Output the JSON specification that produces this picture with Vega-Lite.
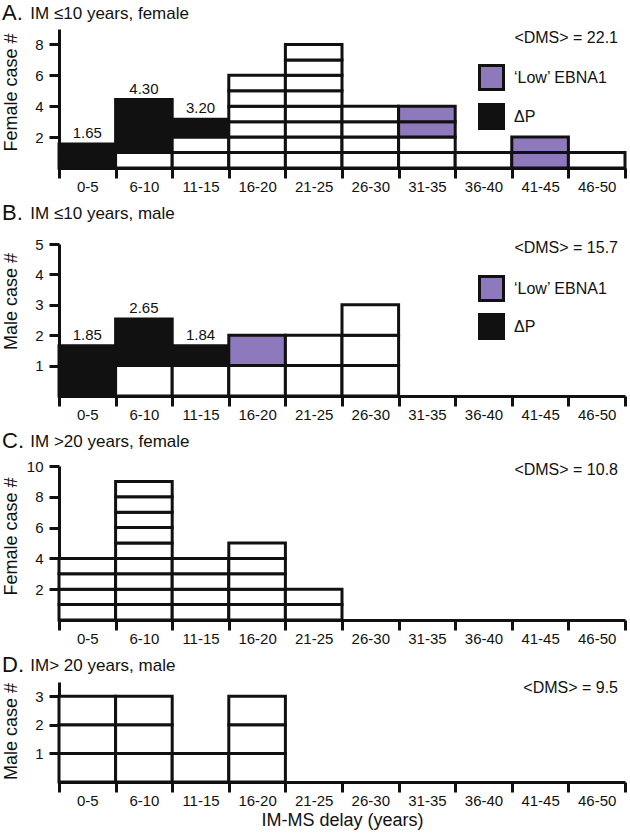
{
  "$schema": "https://vega.github.io/schema/vega-lite/v6.json",
  "background": "white",
  "padding": {"left": 1, "right": 2, "top": 2, "bottom": 2},
  "spacing": 8,
  "config": {
    "view": {"stroke": null},
    "font": "Liberation Sans",
    "axis": {
      "domainColor": "#111", "domainWidth": 3, "tickColor": "#111", "tickWidth": 3, "tickSize": 10,
      "labelFont": "Liberation Sans", "labelFontSize": 15, "labelColor": "#111",
      "titleFont": "Liberation Sans", "titleFontSize": 18, "titleFontWeight": "normal", "titleColor": "#111",
      "grid": false, "labelOverlap": false, "tickCount": 12
    },
    "title": {
      "font": "Liberation Sans", "subtitleFont": "Liberation Sans", "fontSize": 22, "subtitleFontSize": 17,
      "fontWeight": "normal", "color": "#111", "subtitleColor": "#111", "anchor": "start", "frame": "bounds",
      "subtitlePadding": -19
    }
  },
  "datasets": {
    "cells": [
      {"panel": "A", "delay_from": 0, "delay_to": 5, "case_from": 0, "case_to": 1.55, "group": "ΔP"},
      {"panel": "A", "delay_from": 5, "delay_to": 10, "case_from": 0, "case_to": 1, "group": "Case"},
      {"panel": "A", "delay_from": 5, "delay_to": 10, "case_from": 1, "case_to": 4.43, "group": "ΔP"},
      {"panel": "A", "delay_from": 10, "delay_to": 15, "case_from": 0, "case_to": 1, "group": "Case"},
      {"panel": "A", "delay_from": 10, "delay_to": 15, "case_from": 1, "case_to": 2, "group": "Case"},
      {"panel": "A", "delay_from": 10, "delay_to": 15, "case_from": 2, "case_to": 3.15, "group": "ΔP"},
      {"panel": "A", "delay_from": 15, "delay_to": 20, "case_from": 0, "case_to": 1, "group": "Case"},
      {"panel": "A", "delay_from": 15, "delay_to": 20, "case_from": 1, "case_to": 2, "group": "Case"},
      {"panel": "A", "delay_from": 15, "delay_to": 20, "case_from": 2, "case_to": 3, "group": "Case"},
      {"panel": "A", "delay_from": 15, "delay_to": 20, "case_from": 3, "case_to": 4, "group": "Case"},
      {"panel": "A", "delay_from": 15, "delay_to": 20, "case_from": 4, "case_to": 5, "group": "Case"},
      {"panel": "A", "delay_from": 15, "delay_to": 20, "case_from": 5, "case_to": 6, "group": "Case"},
      {"panel": "A", "delay_from": 20, "delay_to": 25, "case_from": 0, "case_to": 1, "group": "Case"},
      {"panel": "A", "delay_from": 20, "delay_to": 25, "case_from": 1, "case_to": 2, "group": "Case"},
      {"panel": "A", "delay_from": 20, "delay_to": 25, "case_from": 2, "case_to": 3, "group": "Case"},
      {"panel": "A", "delay_from": 20, "delay_to": 25, "case_from": 3, "case_to": 4, "group": "Case"},
      {"panel": "A", "delay_from": 20, "delay_to": 25, "case_from": 4, "case_to": 5, "group": "Case"},
      {"panel": "A", "delay_from": 20, "delay_to": 25, "case_from": 5, "case_to": 6, "group": "Case"},
      {"panel": "A", "delay_from": 20, "delay_to": 25, "case_from": 6, "case_to": 7, "group": "Case"},
      {"panel": "A", "delay_from": 20, "delay_to": 25, "case_from": 7, "case_to": 8, "group": "Case"},
      {"panel": "A", "delay_from": 25, "delay_to": 30, "case_from": 0, "case_to": 1, "group": "Case"},
      {"panel": "A", "delay_from": 25, "delay_to": 30, "case_from": 1, "case_to": 2, "group": "Case"},
      {"panel": "A", "delay_from": 25, "delay_to": 30, "case_from": 2, "case_to": 3, "group": "Case"},
      {"panel": "A", "delay_from": 25, "delay_to": 30, "case_from": 3, "case_to": 4, "group": "Case"},
      {"panel": "A", "delay_from": 30, "delay_to": 35, "case_from": 0, "case_to": 1, "group": "Case"},
      {"panel": "A", "delay_from": 30, "delay_to": 35, "case_from": 1, "case_to": 2, "group": "Case"},
      {"panel": "A", "delay_from": 30, "delay_to": 35, "case_from": 2, "case_to": 3, "group": "‘Low’ EBNA1"},
      {"panel": "A", "delay_from": 30, "delay_to": 35, "case_from": 3, "case_to": 4, "group": "‘Low’ EBNA1"},
      {"panel": "A", "delay_from": 35, "delay_to": 40, "case_from": 0, "case_to": 1, "group": "Case"},
      {"panel": "A", "delay_from": 40, "delay_to": 45, "case_from": 0, "case_to": 1, "group": "‘Low’ EBNA1"},
      {"panel": "A", "delay_from": 40, "delay_to": 45, "case_from": 1, "case_to": 2, "group": "‘Low’ EBNA1"},
      {"panel": "A", "delay_from": 45, "delay_to": 50, "case_from": 0, "case_to": 1, "group": "Case"},

      {"panel": "B", "delay_from": 0, "delay_to": 5, "case_from": 0, "case_to": 1.65, "group": "ΔP"},
      {"panel": "B", "delay_from": 5, "delay_to": 10, "case_from": 0, "case_to": 1, "group": "Case"},
      {"panel": "B", "delay_from": 5, "delay_to": 10, "case_from": 1, "case_to": 2.53, "group": "ΔP"},
      {"panel": "B", "delay_from": 10, "delay_to": 15, "case_from": 0, "case_to": 1, "group": "Case"},
      {"panel": "B", "delay_from": 10, "delay_to": 15, "case_from": 1, "case_to": 1.65, "group": "ΔP"},
      {"panel": "B", "delay_from": 15, "delay_to": 20, "case_from": 0, "case_to": 1, "group": "Case"},
      {"panel": "B", "delay_from": 15, "delay_to": 20, "case_from": 1, "case_to": 2, "group": "‘Low’ EBNA1"},
      {"panel": "B", "delay_from": 20, "delay_to": 25, "case_from": 0, "case_to": 1, "group": "Case"},
      {"panel": "B", "delay_from": 20, "delay_to": 25, "case_from": 1, "case_to": 2, "group": "Case"},
      {"panel": "B", "delay_from": 25, "delay_to": 30, "case_from": 0, "case_to": 1, "group": "Case"},
      {"panel": "B", "delay_from": 25, "delay_to": 30, "case_from": 1, "case_to": 2, "group": "Case"},
      {"panel": "B", "delay_from": 25, "delay_to": 30, "case_from": 2, "case_to": 3, "group": "Case"},

      {"panel": "C", "delay_from": 0, "delay_to": 5, "case_from": 0, "case_to": 1, "group": "Case"},
      {"panel": "C", "delay_from": 0, "delay_to": 5, "case_from": 1, "case_to": 2, "group": "Case"},
      {"panel": "C", "delay_from": 0, "delay_to": 5, "case_from": 2, "case_to": 3, "group": "Case"},
      {"panel": "C", "delay_from": 0, "delay_to": 5, "case_from": 3, "case_to": 4, "group": "Case"},
      {"panel": "C", "delay_from": 5, "delay_to": 10, "case_from": 0, "case_to": 1, "group": "Case"},
      {"panel": "C", "delay_from": 5, "delay_to": 10, "case_from": 1, "case_to": 2, "group": "Case"},
      {"panel": "C", "delay_from": 5, "delay_to": 10, "case_from": 2, "case_to": 3, "group": "Case"},
      {"panel": "C", "delay_from": 5, "delay_to": 10, "case_from": 3, "case_to": 4, "group": "Case"},
      {"panel": "C", "delay_from": 5, "delay_to": 10, "case_from": 4, "case_to": 5, "group": "Case"},
      {"panel": "C", "delay_from": 5, "delay_to": 10, "case_from": 5, "case_to": 6, "group": "Case"},
      {"panel": "C", "delay_from": 5, "delay_to": 10, "case_from": 6, "case_to": 7, "group": "Case"},
      {"panel": "C", "delay_from": 5, "delay_to": 10, "case_from": 7, "case_to": 8, "group": "Case"},
      {"panel": "C", "delay_from": 5, "delay_to": 10, "case_from": 8, "case_to": 9, "group": "Case"},
      {"panel": "C", "delay_from": 10, "delay_to": 15, "case_from": 0, "case_to": 1, "group": "Case"},
      {"panel": "C", "delay_from": 10, "delay_to": 15, "case_from": 1, "case_to": 2, "group": "Case"},
      {"panel": "C", "delay_from": 10, "delay_to": 15, "case_from": 2, "case_to": 3, "group": "Case"},
      {"panel": "C", "delay_from": 10, "delay_to": 15, "case_from": 3, "case_to": 4, "group": "Case"},
      {"panel": "C", "delay_from": 15, "delay_to": 20, "case_from": 0, "case_to": 1, "group": "Case"},
      {"panel": "C", "delay_from": 15, "delay_to": 20, "case_from": 1, "case_to": 2, "group": "Case"},
      {"panel": "C", "delay_from": 15, "delay_to": 20, "case_from": 2, "case_to": 3, "group": "Case"},
      {"panel": "C", "delay_from": 15, "delay_to": 20, "case_from": 3, "case_to": 4, "group": "Case"},
      {"panel": "C", "delay_from": 15, "delay_to": 20, "case_from": 4, "case_to": 5, "group": "Case"},
      {"panel": "C", "delay_from": 20, "delay_to": 25, "case_from": 0, "case_to": 1, "group": "Case"},
      {"panel": "C", "delay_from": 20, "delay_to": 25, "case_from": 1, "case_to": 2, "group": "Case"},

      {"panel": "D", "delay_from": 0, "delay_to": 5, "case_from": 0, "case_to": 1, "group": "Case"},
      {"panel": "D", "delay_from": 0, "delay_to": 5, "case_from": 1, "case_to": 2, "group": "Case"},
      {"panel": "D", "delay_from": 0, "delay_to": 5, "case_from": 2, "case_to": 3, "group": "Case"},
      {"panel": "D", "delay_from": 5, "delay_to": 10, "case_from": 0, "case_to": 1, "group": "Case"},
      {"panel": "D", "delay_from": 5, "delay_to": 10, "case_from": 1, "case_to": 2, "group": "Case"},
      {"panel": "D", "delay_from": 5, "delay_to": 10, "case_from": 2, "case_to": 3, "group": "Case"},
      {"panel": "D", "delay_from": 10, "delay_to": 15, "case_from": 0, "case_to": 1, "group": "Case"},
      {"panel": "D", "delay_from": 15, "delay_to": 20, "case_from": 0, "case_to": 1, "group": "Case"},
      {"panel": "D", "delay_from": 15, "delay_to": 20, "case_from": 1, "case_to": 2, "group": "Case"},
      {"panel": "D", "delay_from": 15, "delay_to": 20, "case_from": 2, "case_to": 3, "group": "Case"}
    ],
    "labels": [
      {"panel": "A", "delay_mid": 2.5, "case_top": 1.55, "label": "1.65"},
      {"panel": "A", "delay_mid": 7.5, "case_top": 4.43, "label": "4.30"},
      {"panel": "A", "delay_mid": 12.5, "case_top": 3.15, "label": "3.20"},
      {"panel": "B", "delay_mid": 2.5, "case_top": 1.65, "label": "1.85"},
      {"panel": "B", "delay_mid": 7.5, "case_top": 2.53, "label": "2.65"},
      {"panel": "B", "delay_mid": 12.5, "case_top": 1.65, "label": "1.84"}
    ],
    "notes": [
      {"panel": "A", "note": "<DMS> = 22.1"},
      {"panel": "B", "note": "<DMS> = 15.7"},
      {"panel": "C", "note": "<DMS> = 10.8"},
      {"panel": "D", "note": "<DMS> = 9.5"}
    ]
  },
  "resolve": {
    "scale": {"x": "independent", "y": "independent", "fill": "independent"},
    "legend": {"fill": "independent"}
  },
  "vconcat": [
    {
      "width": 566, "height": 139,
      "title": {"text": "A.", "subtitle": "\u200b\u00a0\u00a0\u00a0\u00a0\u00a0\u00a0IM ≤10 years, female", "offset": 4},
      "layer": [
        {
          "data": {"name": "cells"},
          "transform": [{"filter": "datum.panel == 'A'"}],
          "mark": {"type": "rect", "stroke": "#111", "strokeWidth": 3},
          "encoding": {
            "x": {"field": "delay_from", "type": "quantitative", "scale": {"domain": [0, 50], "nice": false},
              "axis": {"title": null, "values": [0, 5, 10, 15, 20, 25, 30, 35, 40, 45, 50], "tickCount": 12,
                "labelExpr": "datum.value == 50 ? '' : datum.value == 0 ? '0-5' : (datum.value + 1) + '-' + (datum.value + 5)",
                "labelOffset": 28.3, "labelAlign": "center", "labelBaseline": "top", "labelPadding": 1, "labelFlush": false, "labelOverlap": false}},
            "x2": {"field": "delay_to"},
            "y": {"field": "case_from", "type": "quantitative", "scale": {"domain": [0, 9], "nice": false},
              "axis": {"title": "Female case #", "values": [2, 4, 6, 8], "format": "d", "tickCount": 12, "labelPadding": 6, "labelOverlap": false, "labelFlush": false, "titleX": -43, "titleY": 63, "titleBaseline": "alphabetic"}},
            "y2": {"field": "case_to"},
            "fill": {"field": "group", "type": "nominal",
              "scale": {"domain": ["Case", "‘Low’ EBNA1", "ΔP"], "range": ["#ffffff", "#8e79bd", "#111111"]},
              "legend": {"orient": "none", "legendX": 419, "legendY": 35, "values": ["‘Low’ EBNA1", "ΔP"], "title": null,
                "symbolType": "square", "symbolSize": 576, "symbolStrokeColor": "#111", "symbolStrokeWidth": 3,
                "labelFontSize": 16, "labelFont": "Liberation Sans", "labelColor": "#111", "labelOffset": 9, "rowPadding": 2, "padding": 0}}
          }
        },
        {
          "data": {"name": "labels"},
          "transform": [{"filter": "datum.panel == 'A'"}],
          "mark": {"type": "text", "baseline": "bottom", "dy": -3, "fontSize": 15, "color": "#111"},
          "encoding": {
            "x": {"field": "delay_mid", "type": "quantitative"},
            "y": {"field": "case_top", "type": "quantitative"},
            "text": {"field": "label"}
          }
        },
        {
          "data": {"name": "notes"},
          "transform": [{"filter": "datum.panel == 'A'"}],
          "mark": {"type": "text", "align": "right", "baseline": "middle", "dx": -7, "fontSize": 16, "color": "#111"},
          "encoding": {
            "x": {"datum": 50, "type": "quantitative"},
            "y": {"datum": 8.4, "type": "quantitative"},
            "text": {"field": "note"}
          }
        }
      ]
    },
    {
      "width": 566, "height": 152,
      "title": {"text": "B.", "subtitle": "\u200b\u00a0\u00a0\u00a0\u00a0\u00a0\u00a0IM ≤10 years, male", "offset": 12},
      "layer": [
        {
          "data": {"name": "cells"},
          "transform": [{"filter": "datum.panel == 'B'"}],
          "mark": {"type": "rect", "stroke": "#111", "strokeWidth": 3},
          "encoding": {
            "x": {"field": "delay_from", "type": "quantitative", "scale": {"domain": [0, 50], "nice": false},
              "axis": {"title": null, "values": [0, 5, 10, 15, 20, 25, 30, 35, 40, 45, 50], "tickCount": 12,
                "labelExpr": "datum.value == 50 ? '' : datum.value == 0 ? '0-5' : (datum.value + 1) + '-' + (datum.value + 5)",
                "labelOffset": 28.3, "labelAlign": "center", "labelBaseline": "top", "labelPadding": 1, "labelFlush": false, "labelOverlap": false}},
            "x2": {"field": "delay_to"},
            "y": {"field": "case_from", "type": "quantitative", "scale": {"domain": [0, 5], "nice": false},
              "axis": {"title": "Male case #", "values": [1, 2, 3, 4, 5], "format": "d", "tickCount": 12, "labelPadding": 6, "labelOverlap": false, "labelFlush": false, "titleX": -43, "titleY": 57, "titleBaseline": "alphabetic"}},
            "y2": {"field": "case_to"},
            "fill": {"field": "group", "type": "nominal",
              "scale": {"domain": ["Case", "‘Low’ EBNA1", "ΔP"], "range": ["#ffffff", "#8e79bd", "#111111"]},
              "legend": {"orient": "none", "legendX": 419, "legendY": 31, "values": ["‘Low’ EBNA1", "ΔP"], "title": null,
                "symbolType": "square", "symbolSize": 576, "symbolStrokeColor": "#111", "symbolStrokeWidth": 3,
                "labelFontSize": 16, "labelFont": "Liberation Sans", "labelColor": "#111", "labelOffset": 9, "rowPadding": 1, "padding": 0}}
          }
        },
        {
          "data": {"name": "labels"},
          "transform": [{"filter": "datum.panel == 'B'"}],
          "mark": {"type": "text", "baseline": "bottom", "dy": -3, "fontSize": 15, "color": "#111"},
          "encoding": {
            "x": {"field": "delay_mid", "type": "quantitative"},
            "y": {"field": "case_top", "type": "quantitative"},
            "text": {"field": "label"}
          }
        },
        {
          "data": {"name": "notes"},
          "transform": [{"filter": "datum.panel == 'B'"}],
          "mark": {"type": "text", "align": "right", "baseline": "middle", "dx": -7, "fontSize": 16, "color": "#111"},
          "encoding": {
            "x": {"datum": 50, "type": "quantitative"},
            "y": {"datum": 4.86, "type": "quantitative"},
            "text": {"field": "note"}
          }
        }
      ]
    },
    {
      "width": 566, "height": 154,
      "title": {"text": "C.", "subtitle": "\u200b\u00a0\u00a0\u00a0\u00a0\u00a0\u00a0IM >20 years, female", "offset": 6},
      "layer": [
        {
          "data": {"name": "cells"},
          "transform": [{"filter": "datum.panel == 'C'"}],
          "mark": {"type": "rect", "stroke": "#111", "strokeWidth": 3},
          "encoding": {
            "x": {"field": "delay_from", "type": "quantitative", "scale": {"domain": [0, 50], "nice": false},
              "axis": {"title": null, "values": [0, 5, 10, 15, 20, 25, 30, 35, 40, 45, 50], "tickCount": 12,
                "labelExpr": "datum.value == 50 ? '' : datum.value == 0 ? '0-5' : (datum.value + 1) + '-' + (datum.value + 5)",
                "labelOffset": 28.3, "labelAlign": "center", "labelBaseline": "top", "labelPadding": 1, "labelFlush": false, "labelOverlap": false}},
            "x2": {"field": "delay_to"},
            "y": {"field": "case_from", "type": "quantitative", "scale": {"domain": [0, 10], "nice": false},
              "axis": {"title": "Female case #", "values": [2, 4, 6, 8, 10], "format": "d", "tickCount": 12, "labelPadding": 6, "labelOverlap": false, "labelFlush": false, "titleX": -43, "titleY": 70, "titleBaseline": "alphabetic"}},
            "y2": {"field": "case_to"},
            "fill": {"field": "group", "type": "nominal",
              "scale": {"domain": ["Case", "‘Low’ EBNA1", "ΔP"], "range": ["#ffffff", "#8e79bd", "#111111"]},
              "legend": null}
          }
        },
        {
          "data": {"name": "notes"},
          "transform": [{"filter": "datum.panel == 'C'"}],
          "mark": {"type": "text", "align": "right", "baseline": "middle", "dx": -7, "fontSize": 16, "color": "#111"},
          "encoding": {
            "x": {"datum": 50, "type": "quantitative"},
            "y": {"datum": 9.72, "type": "quantitative"},
            "text": {"field": "note"}
          }
        }
      ]
    },
    {
      "width": 566, "height": 100,
      "title": {"text": "D.", "subtitle": "\u200b\u00a0\u00a0\u00a0\u00a0\u00a0\u00a0IM> 20 years, male", "offset": 3},
      "layer": [
        {
          "data": {"name": "cells"},
          "transform": [{"filter": "datum.panel == 'D'"}],
          "mark": {"type": "rect", "stroke": "#111", "strokeWidth": 3},
          "encoding": {
            "x": {"field": "delay_from", "type": "quantitative", "scale": {"domain": [0, 50], "nice": false},
              "axis": {"title": "IM-MS delay (years)", "titlePadding": 3, "values": [0, 5, 10, 15, 20, 25, 30, 35, 40, 45, 50], "tickCount": 12,
                "labelExpr": "datum.value == 50 ? '' : datum.value == 0 ? '0-5' : (datum.value + 1) + '-' + (datum.value + 5)",
                "labelOffset": 28.3, "labelAlign": "center", "labelBaseline": "top", "labelPadding": 1, "labelFlush": false, "labelOverlap": false}},
            "x2": {"field": "delay_to"},
            "y": {"field": "case_from", "type": "quantitative", "scale": {"domain": [0, 3.5], "nice": false},
              "axis": {"title": "Male case #", "values": [1, 2, 3], "format": "d", "tickCount": 12, "labelPadding": 6, "labelOverlap": false, "labelFlush": false, "titleX": -43, "titleY": 49, "titleBaseline": "alphabetic"}},
            "y2": {"field": "case_to"},
            "fill": {"field": "group", "type": "nominal",
              "scale": {"domain": ["Case", "‘Low’ EBNA1", "ΔP"], "range": ["#ffffff", "#8e79bd", "#111111"]},
              "legend": null}
          }
        },
        {
          "data": {"name": "notes"},
          "transform": [{"filter": "datum.panel == 'D'"}],
          "mark": {"type": "text", "align": "right", "baseline": "middle", "dx": -7, "fontSize": 16, "color": "#111"},
          "encoding": {
            "x": {"datum": 50, "type": "quantitative"},
            "y": {"datum": 3.28, "type": "quantitative"},
            "text": {"field": "note"}
          }
        }
      ]
    }
  ]
}
